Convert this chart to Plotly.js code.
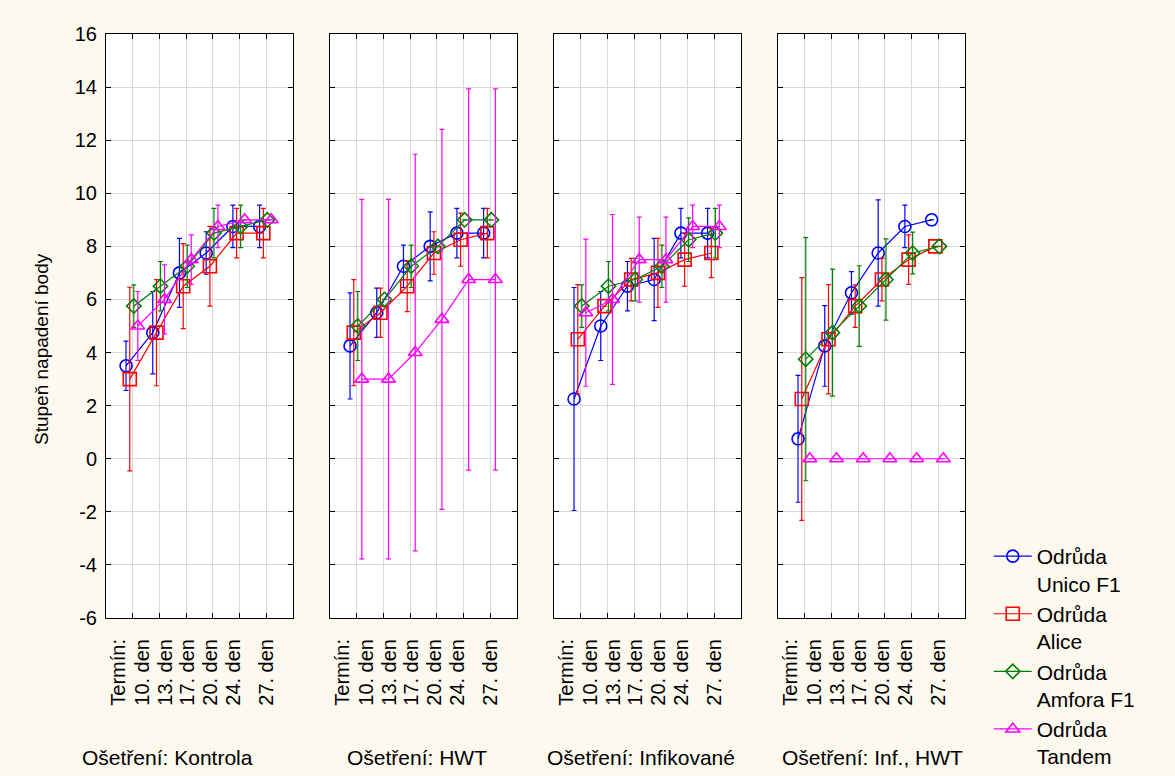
<!DOCTYPE html>
<html>
<head>
<meta charset="utf-8">
<script src="https://cdn.plot.ly/plotly-3.0.1.min.js"></script>
<style>html,body{margin:0;padding:0;background:#fdf9ef;}#chart{width:1175px;height:776px;}</style>
</head>
<body>
<div id="chart"></div>
<script>
// Tick labels (assessment dates), written the way the original stacks them
const termLabels = ['Termín:', '10. den', '13. den', '17. den', '20. den', '24. den', '27. den'];
// Y tick values and labels (plain hyphen minus as in the original)
const yTickVals = [-6, -4, -2, 0, 2, 4, 6, 8, 10, 12, 14, 16];
const yTickText = ['-6', '-4', '-2', '0', '2', '4', '6', '8', '10', '12', '14', '16'];
// Panel (treatment) titles
const panelTitles = ['Ošetření: Kontrola', 'Ošetření: HWT', 'Ošetření: Infikované', 'Ošetření: Inf., HWT'];
// Series (variety) names
const seriesNames = ['Odrůda<br>Unico F1', 'Odrůda<br>Alice', 'Odrůda<br>Amfora F1', 'Odrůda<br>Tandem'];

// Means per panel (Kontrola, HWT, Infikované, Inf.+HWT), one value per date
const unicoMean = [
  [3.5, 4.75, 7.0, 7.75, 8.75, 8.75],
  [4.25, 5.5, 7.25, 8.0, 8.5, 8.5],
  [2.25, 5.0, 6.5, 6.75, 8.5, 8.5],
  [0.75, 4.25, 6.25, 7.75, 8.75, 9.0]
];
const unicoErr = [
  [0.93, 1.55, 1.3, 0.8, 0.8, 0.8],
  [2.0, 0.93, 0.8, 1.3, 0.93, 0.93],
  [4.2, 1.3, 0.93, 1.55, 0.93, 0.93],
  [2.39, 1.52, 0.8, 2.0, 0.8, 0]
];
const aliceMean = [
  [3.0, 4.75, 6.5, 7.25, 8.5, 8.5],
  [4.75, 5.5, 6.5, 7.75, 8.25, 8.5],
  [4.5, 5.75, 6.75, 7.0, 7.5, 7.75],
  [2.25, 4.5, 5.75, 6.75, 7.5, 8.0]
];
const aliceErr = [
  [3.46, 2.0, 1.6, 1.5, 0.93, 0.93],
  [2.0, 0.93, 0.96, 0.8, 1.0, 0.93],
  [2.06, 0, 0.8, 1.3, 1.0, 0.93],
  [4.57, 2.06, 0.8, 0.8, 0.93, 0]
];
const amforaMean = [
  [5.75, 6.5, 7.25, 8.5, 8.75, 9.0],
  [5.0, 6.0, 7.25, 8.0, 9.0, 9.0],
  [5.75, 6.5, 6.75, 7.25, 8.25, 8.5],
  [3.75, 4.75, 5.75, 6.75, 7.75, 8.0]
];
const amforaErr = [
  [0.8, 0.93, 0.8, 0.93, 0.8, 0],
  [1.3, 0, 0.8, 0, 0, 0],
  [0.8, 0.93, 0.8, 0.8, 0.82, 0.93],
  [4.58, 2.39, 1.52, 1.53, 0.79, 0]
];
const tandemMean = [
  [5.0, 6.0, 7.5, 8.75, 9.0, 9.0],
  [3.0, 3.0, 4.0, 5.25, 6.75, 6.75],
  [5.5, 6.0, 7.5, 7.5, 8.75, 8.75],
  [0, 0, 0, 0, 0, 0]
];
const tandemErr = [
  [1.3, 1.3, 0.93, 0.8, 0, 0],
  [6.77, 6.77, 7.47, 7.16, 7.18, 7.18],
  [2.77, 3.2, 1.6, 1.6, 0.8, 0.8],
  [0, 0, 0, 0, 0, 0]
];

const seriesMeans = [unicoMean, aliceMean, amforaMean, tandemMean];
const seriesErrs = [unicoErr, aliceErr, amforaErr, tandemErr];
const seriesColors = ['#0000ff', '#ff0000', '#008000', '#ff00ff'];
const seriesSymbols = ['circle-open', 'square-open', 'diamond-open', 'triangle-up-open'];
const seriesSizes = [12, 13, 11, 12];
const seriesOffset = [-0.25, -0.11, 0.04, 0.19];
// label placement along the category axis (Statistica packs the rotated labels)
const labelSlots = [-0.55, 0.35, 1.22, 2.05, 2.92, 3.78, 5.0];

const FONT = 'Liberation Sans, Arial, sans-serif';
const traces = [];
for (let p = 0; p < 4; p++) {
  const ax = p === 0 ? '' : String(p + 1);
  for (let s = 0; s < 4; s++) {
    const ys = seriesMeans[s][p];
    traces.push({
      type: 'scatter', mode: 'lines+markers',
      x: ys.map((_, i) => i + seriesOffset[s]),
      y: ys,
      xaxis: 'x' + ax, yaxis: 'y' + ax,
      name: seriesNames[s], legendgroup: 'g' + s, showlegend: p === 0,
      line: {color: seriesColors[s], width: 1.2},
      marker: {symbol: seriesSymbols[s], size: seriesSizes[s], color: seriesColors[s], line: {width: 1.6, color: seriesColors[s]}},
      error_y: {type: 'data', array: seriesErrs[s][p], visible: true, color: seriesColors[s], thickness: 1.2, width: 2.5}
    });
  }
}

const xDomains = [[106/1175, 293/1175], [330/1175, 517/1175], [554/1175, 741/1175], [778/1175, 965/1175]];
const yDomain = [1 - 618/776, 1 - 34/776];
const layout = {
  width: 1175, height: 776,
  margin: {l: 0, r: 0, t: 0, b: 0, autoexpand: false},
  paper_bgcolor: '#fdf9ef', plot_bgcolor: '#ffffff',
  font: {family: FONT, size: 20, color: '#000'},
  showlegend: true,
  legend: {x: 0.8415, y: 1 - 536/776, xanchor: 'left', yanchor: 'top', bgcolor: 'rgba(0,0,0,0)',
           font: {family: FONT, size: 21, color: '#000'}, valign: 'top', tracegroupgap: 0, itemwidth: 38},
  annotations: [],
  hovermode: false
};
for (let p = 0; p < 4; p++) {
  const ax = p === 0 ? '' : String(p + 1);
  layout['xaxis' + ax] = {
    domain: xDomains[p], anchor: 'y' + ax, range: [-1, 6],
    tickmode: 'array', tickvals: labelSlots, ticktext: termLabels, tickangle: -90,
    ticks: '', showgrid: false,
    minor: {tickmode: 'array', tickvals: [0, 1, 2, 3, 4, 5], ticks: 'inside', ticklen: 5, tickcolor: '#000',
            showgrid: true, gridcolor: '#d9d9d9', gridwidth: 1},
    showline: true, linecolor: '#000', linewidth: 1, mirror: 'ticks', zeroline: false,
    tickfont: {family: FONT, size: 20, color: '#000'}, ticklabelstandoff: 12, automargin: false, fixedrange: true
  };
  layout['yaxis' + ax] = {
    domain: yDomain, anchor: 'x' + ax, range: [-6, 16],
    tickmode: 'array', tickvals: yTickVals, ticktext: yTickText,
    ticks: 'inside', ticklen: 5, tickcolor: '#000', showline: true, linecolor: '#000', linewidth: 1, mirror: 'ticks',
    showgrid: true, gridcolor: '#d9d9d9', gridwidth: 1, zeroline: false,
    showticklabels: p === 0, tickfont: {family: FONT, size: 20, color: '#000'}, ticklabelstandoff: 4,
    automargin: false, fixedrange: true
  };
  layout.annotations.push({
    text: panelTitles[p], xref: 'paper', yref: 'paper', showarrow: false,
    x: [167, 417, 641, 872][p] / 1175, y: 1 - 757/776, xanchor: 'center', yanchor: 'middle',
    font: {family: FONT, size: 21, color: '#000'}
  });
}
layout.annotations.push({
  text: 'Stupeň napadení body', xref: 'paper', yref: 'paper', showarrow: false,
  x: 42/1175, y: 1 - 349/776, xanchor: 'center', yanchor: 'middle', textangle: -90,
  font: {family: FONT, size: 19, color: '#000'}
});

Plotly.newPlot('chart', traces, layout, {displayModeBar: false, staticPlot: true});
</script>
</body>
</html>
